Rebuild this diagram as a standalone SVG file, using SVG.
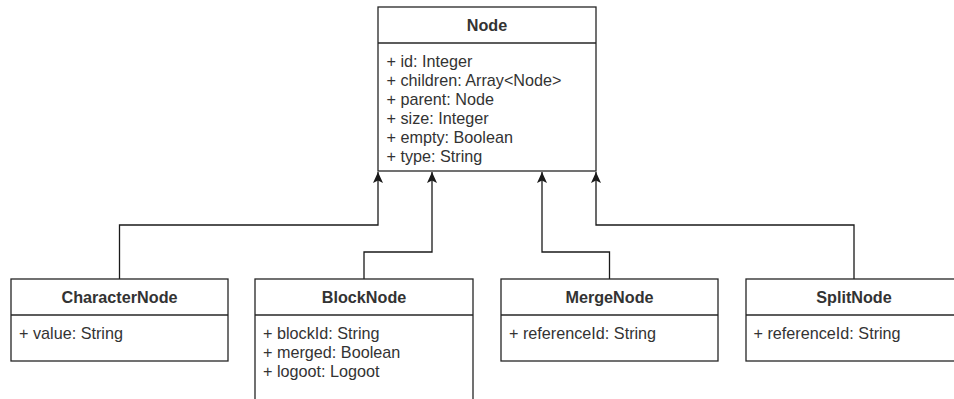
<svg xmlns="http://www.w3.org/2000/svg" width="954" height="399" viewBox="0 0 954 399">
  <style>
    .box { fill: #ffffff; stroke: #262626; stroke-width: 1.3; }
    .sep { stroke: #262626; stroke-width: 1.3; }
    .title { font-family: "Liberation Sans", Arial, sans-serif; font-size: 16.2px; font-weight: bold; fill: #333333; text-anchor: middle; }
    .attr { font-family: "Liberation Sans", Arial, sans-serif; font-size: 16.2px; fill: #333333; }
    .edge { fill: none; stroke: #1a1a1a; stroke-width: 1.3; }
  </style>
  <defs>
    <marker id="inherit" markerUnits="userSpaceOnUse" markerWidth="14" markerHeight="14" refX="11" refY="5" orient="auto">
      <path d="M0,0 L11,5 L0,10 L2.5,5 Z" fill="#1a1a1a"/>
    </marker>
  </defs>
  <rect width="954" height="399" fill="#ffffff"/>

  <g id="connectors">
    <path class="edge" d="M119.5,279 V225 H378 V172" marker-end="url(#inherit)"/>
    <path class="edge" d="M364,279 V252 H432 V172" marker-end="url(#inherit)"/>
    <path class="edge" d="M609.5,279 V252 H542 V172" marker-end="url(#inherit)"/>
    <path class="edge" d="M854,279 V225 H596 V172" marker-end="url(#inherit)"/>
  </g>

  <g id="node-Node">
    <rect class="box" x="378" y="7" width="218" height="164"/>
    <line class="sep" x1="378" y1="43" x2="596" y2="43"/>
    <text class="title" x="487" y="31">Node</text>
    <text class="attr" x="386.5" y="66.5">+ id: Integer</text>
    <text class="attr" x="386.5" y="85.5">+ children: Array&lt;Node&gt;</text>
    <text class="attr" x="386.5" y="104.5">+ parent: Node</text>
    <text class="attr" x="386.5" y="123.5">+ size: Integer</text>
    <text class="attr" x="386.5" y="142.5">+ empty: Boolean</text>
    <text class="attr" x="386.5" y="161.5">+ type: String</text>
  </g>

  <g id="node-CharacterNode">
    <rect class="box" x="11" y="279" width="217" height="82"/>
    <line class="sep" x1="11" y1="315" x2="228" y2="315"/>
    <text class="title" x="119.5" y="303">CharacterNode</text>
    <text class="attr" x="19" y="339">+ value: String</text>
  </g>

  <g id="node-BlockNode">
    <rect class="box" x="255" y="279" width="218" height="140"/>
    <line class="sep" x1="255" y1="315" x2="473" y2="315"/>
    <text class="title" x="364" y="303">BlockNode</text>
    <text class="attr" x="263" y="338.5">+ blockId: String</text>
    <text class="attr" x="263" y="357.5">+ merged: Boolean</text>
    <text class="attr" x="263" y="376.5">+ logoot: Logoot</text>
  </g>

  <g id="node-MergeNode">
    <rect class="box" x="501" y="279" width="217" height="82"/>
    <line class="sep" x1="501" y1="315" x2="718" y2="315"/>
    <text class="title" x="609.5" y="303">MergeNode</text>
    <text class="attr" x="509" y="339">+ referenceId: String</text>
  </g>

  <g id="node-SplitNode">
    <rect class="box" x="746" y="279" width="217" height="82"/>
    <line class="sep" x1="746" y1="315" x2="963" y2="315"/>
    <text class="title" x="854" y="303">SplitNode</text>
    <text class="attr" x="753.5" y="339">+ referenceId: String</text>
  </g>
</svg>
